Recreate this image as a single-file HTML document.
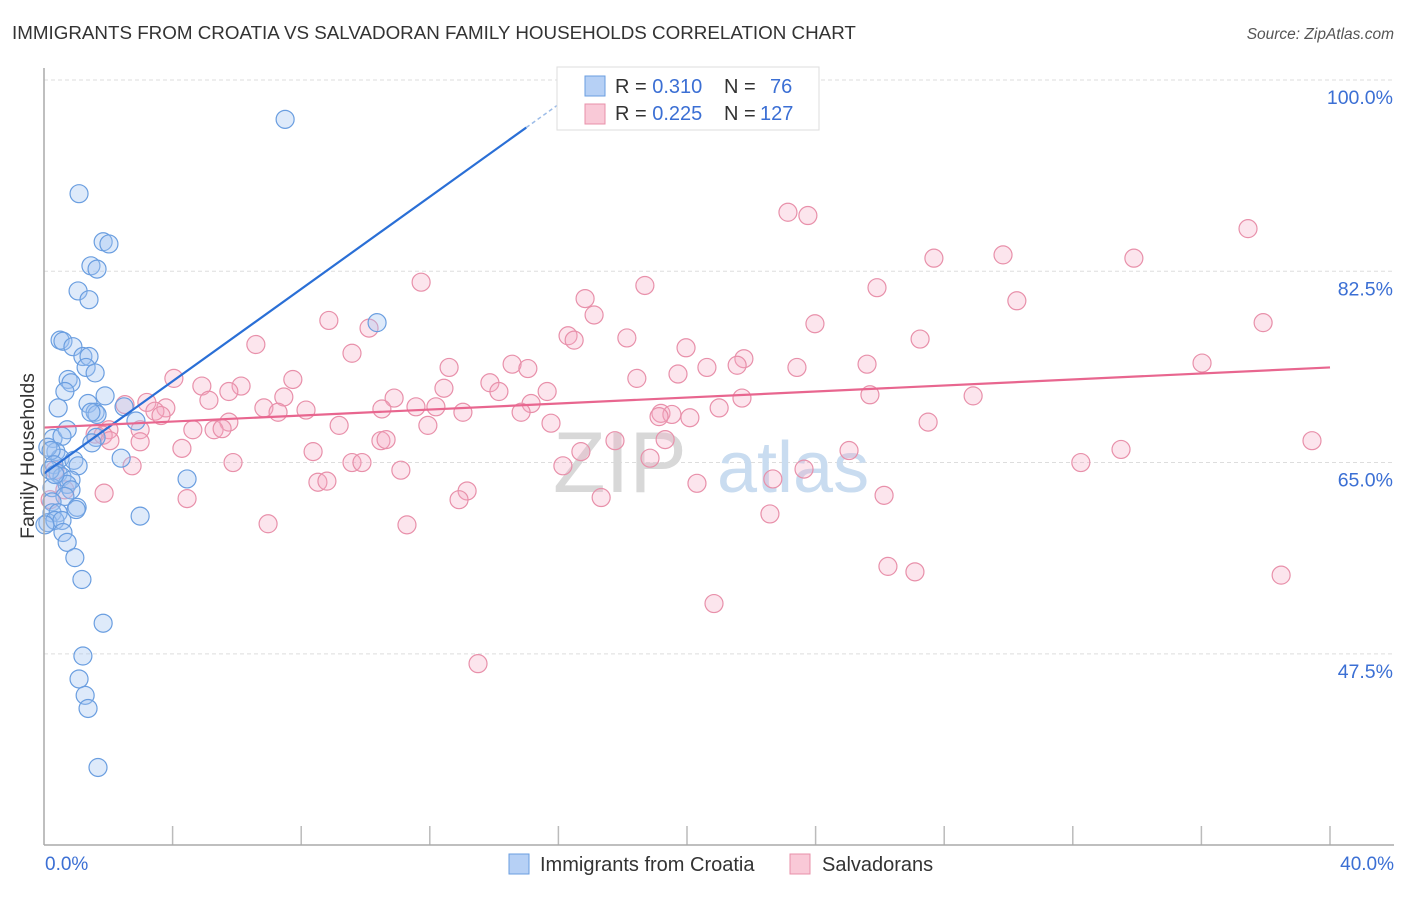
<!DOCTYPE html>
<html><head><meta charset="utf-8"><style>
body{margin:0;background:#fff;font-family:"Liberation Sans",sans-serif;}
svg text{font-family:"Liberation Sans",sans-serif;}
</style></head><body>
<svg id="chart" width="1406" height="892" viewBox="0 0 1406 892" xmlns="http://www.w3.org/2000/svg">
<text x="12" y="39" font-size="18.8" fill="#333">IMMIGRANTS FROM CROATIA VS SALVADORAN FAMILY HOUSEHOLDS CORRELATION CHART</text>
<text x="1394" y="39" font-size="15.5" fill="#555" font-style="italic" text-anchor="end">Source: ZipAtlas.com</text>
<g id="grid"></g>
<g id="watermark">
<text x="553" y="492" font-size="86" fill="#d8d8d8" font-family="Liberation Serif,serif">ZIP</text>
<text x="717" y="492" font-size="72" fill="#c9dcf0">atlas</text>
</g>
<g id="pts"></g>
<g id="lines"></g>
<line x1="44" y1="68" x2="44" y2="845" stroke="#aaa" stroke-width="1.5"/>
<line x1="44" y1="845" x2="1394" y2="845" stroke="#aaa" stroke-width="1.5"/>
<text transform="translate(34,456) rotate(-90)" font-size="19.5" fill="#333" text-anchor="middle">Family Households</text>
<text x="45" y="870" font-size="19" fill="#3b6fd4">0.0%</text>
<text x="1394" y="870" font-size="19" fill="#3b6fd4" text-anchor="end">40.0%</text>
<g>
<rect x="557" y="67" width="262" height="63" fill="#fff" stroke="#ddd"/>
<rect x="585" y="76" width="20" height="20" fill="#b6d0f5" stroke="#6a9ee0"/>
<rect x="585" y="104" width="20" height="20" fill="#f9c9d7" stroke="#e890aa"/>
<text x="615" y="93" font-size="20" fill="#333">R = <tspan fill="#3b6fd4">0.310</tspan><tspan x="724">N = </tspan><tspan x="770" fill="#3b6fd4">76</tspan></text>
<text x="615" y="120" font-size="20" fill="#333">R = <tspan fill="#3b6fd4">0.225</tspan><tspan x="724">N = </tspan><tspan x="760" fill="#3b6fd4">127</tspan></text>
</g>
<g>
<rect x="509" y="854" width="20" height="20" fill="#b6d0f5" stroke="#6a9ee0"/>
<text x="540" y="871" font-size="20" fill="#333">Immigrants from Croatia</text>
<rect x="790" y="854" width="20" height="20" fill="#f9c9d7" stroke="#e890aa"/>
<text x="822" y="871" font-size="20" fill="#333">Salvadorans</text>
</g>
</svg>
<script>
const yTicks=[100,82.5,65,47.5];
const yTickLabels=["100.0%","82.5%","65.0%","47.5%"];
const xTicks=[4,8,12,16,20,24,28,32,36,40];
const croatiaX=[7.50,1.09,1.84,2.02,1.46,1.65,1.06,1.40,10.36,0.50,0.59,0.90,1.21,1.40,1.31,1.59,0.75,0.84,0.65,1.90,0.44,1.37,1.59,1.65,1.46,2.49,0.28,0.72,0.56,1.62,1.49,2.86,2.40,0.37,0.50,0.12,0.22,0.93,0.31,1.06,0.44,0.56,0.84,0.72,4.45,0.25,0.84,0.65,0.25,1.03,1.00,2.99,0.25,0.44,0.12,0.34,0.56,0.59,0.72,0.96,1.18,1.84,1.21,1.09,1.28,1.37,1.68,0.03,0.19,0.34];
const croatiaY=[96.4,89.6,85.2,85.0,83.0,82.7,80.7,79.9,77.8,76.2,76.1,75.6,74.7,74.7,73.7,73.2,72.6,72.3,71.5,71.1,70.0,70.4,69.6,69.4,69.6,70.1,67.2,68.0,67.4,67.3,66.8,68.8,65.4,66.0,65.4,66.4,66.1,65.2,64.8,64.7,64.0,63.7,63.4,63.0,63.5,62.7,62.5,61.9,61.4,60.9,60.7,60.1,60.4,60.4,59.5,59.7,59.7,58.6,57.7,56.3,54.3,50.3,47.3,45.2,43.7,42.5,37.1,59.3,64.3,63.9];
const salvX=[23.14,23.76,37.45,27.68,29.83,33.90,11.73,18.69,25.91,16.83,30.26,17.11,8.86,23.98,37.92,10.11,16.30,16.49,18.13,27.25,6.59,19.97,9.58,21.77,21.56,20.62,23.42,25.60,36.02,12.60,14.56,15.05,4.04,18.44,19.72,7.74,13.87,4.91,6.13,5.75,12.44,15.65,14.15,7.46,25.69,28.90,21.71,10.89,5.13,2.52,3.20,3.79,3.45,3.64,6.84,7.28,8.15,10.51,11.57,12.19,13.03,15.15,14.84,21.00,19.19,19.53,20.09,19.13,5.75,15.77,9.18,11.94,27.50,2.02,2.99,1.59,1.84,4.63,5.29,5.54,2.99,10.48,10.64,2.05,19.32,17.76,4.29,25.04,8.37,16.70,33.50,32.25,18.85,5.88,9.58,9.89,11.10,16.14,23.64,2.74,8.52,8.80,20.31,22.67,13.16,12.91,4.45,17.33,26.13,1.87,6.97,11.29,22.58,26.25,27.09,38.48,20.84,13.50,39.44,0.34,0.65,0.19];
const salvY=[87.9,87.6,86.4,83.7,84.0,83.7,81.5,81.2,81.0,80.0,79.8,78.5,78.0,77.7,77.8,77.3,76.6,76.2,76.4,76.3,75.8,75.5,75.0,74.5,73.9,73.7,73.7,74.0,74.1,73.7,74.0,73.6,72.7,72.7,73.1,72.6,72.3,72.0,72.0,71.5,71.8,71.5,71.5,71.0,71.2,71.1,70.9,70.9,70.7,70.3,70.5,70.0,69.7,69.3,70.0,69.6,69.8,69.9,70.1,70.1,69.6,70.4,69.6,70.0,69.5,69.4,69.1,69.2,68.7,68.6,68.4,68.4,68.7,68.0,68.0,67.6,67.5,68.0,68.0,68.1,66.9,67.0,67.1,67.0,67.1,67.0,66.3,66.1,66.0,66.0,66.2,65.0,65.4,65.0,65.0,65.0,64.3,64.7,64.4,64.7,63.2,63.3,63.1,63.5,62.4,61.6,61.7,61.8,62.0,62.2,59.4,59.3,60.3,55.5,55.0,54.7,52.1,46.6,67.0,64.3,62.5,61.6];
const croatiaTrend=[64.0,2.11];
const salvTrend=[68.2,0.1375];
const NS="http://www.w3.org/2000/svg";
function xs(v){return 44+v*32.15;}
function ys(v){return 80+(100-v)*10.93;}
function mk(t,a,p){const e=document.createElementNS(NS,t);for(const k in a)e.setAttribute(k,a[k]);p.appendChild(e);return e;}
const grid=document.getElementById('grid');
yTicks.forEach((t,i)=>{
 const l=mk('line',{x1:44,x2:1394,y1:ys(t),y2:ys(t),stroke:'#ddd','stroke-dasharray':'4,3'},grid);
 
 
 const tx=mk('text',{x:1393,y:ys(t)+24,'font-size':19.5,fill:'#3b6fd4','text-anchor':'end'},grid);
 tx.textContent=yTickLabels[i];
 
 
});
xTicks.forEach(t=>{
 const l=mk('line',{x1:xs(t),x2:xs(t),y1:826,y2:845,stroke:'#bbb','stroke-width':1.5},grid);
 
 
});
const pts=document.getElementById('pts');
salvX.forEach((x,i)=>{
 const c=mk('circle',{cx:xs(x),cy:ys(salvY[i]),r:9,fill:'rgba(245,170,195,0.3)',stroke:'#e890aa','stroke-width':1.2},pts);
 
 
});
croatiaX.forEach((x,i)=>{
 const c=mk('circle',{cx:xs(x),cy:ys(croatiaY[i]),r:9,fill:'rgba(160,195,240,0.35)',stroke:'#6a9ee0','stroke-width':1.2},pts);
 
 
});
const lines=document.getElementById('lines');
const f1=x=>croatiaTrend[0]+croatiaTrend[1]*x;
const l1=mk('line',{x1:xs(0),y1:ys(f1(0)),x2:xs(15),y2:ys(f1(15)),stroke:'#2a6fd6','stroke-width':2.2},lines);


const l1d=mk('line',{x1:xs(15),y1:ys(f1(15)),x2:xs(16.9),y2:ys(f1(16.9)),stroke:'#9cbce8','stroke-width':1.5,'stroke-dasharray':'4,3'},lines);


const f2=x=>salvTrend[0]+salvTrend[1]*x;
const l2=mk('line',{x1:xs(0),y1:ys(f2(0)),x2:xs(40),y2:ys(f2(40)),stroke:'#e8668f','stroke-width':2.2},lines);


</script>
</body></html>
